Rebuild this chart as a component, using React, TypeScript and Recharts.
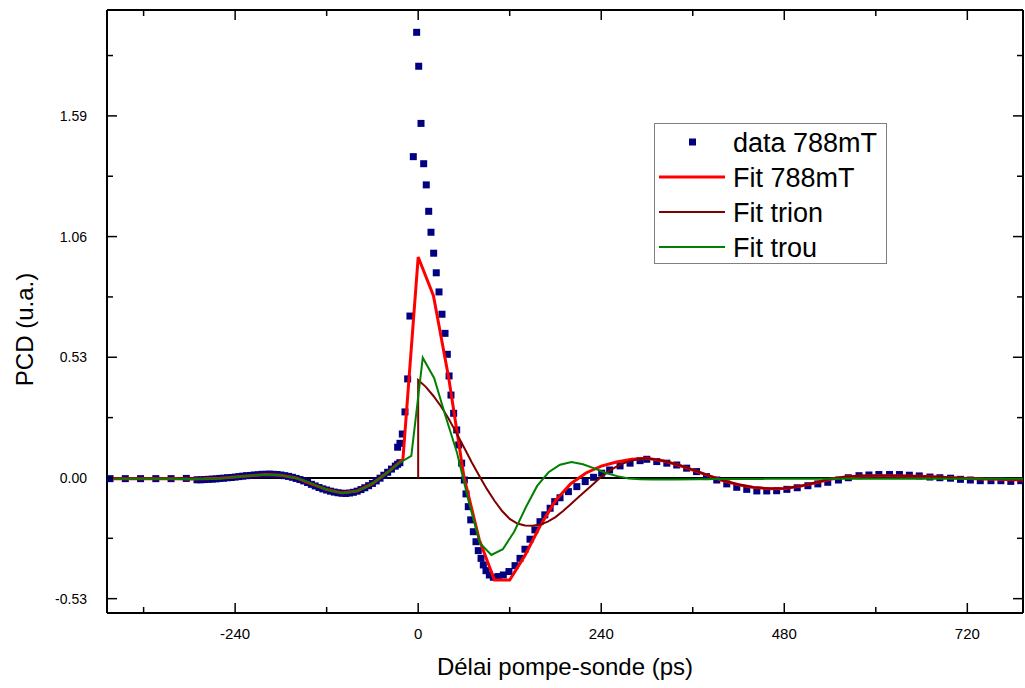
import React from 'react';
import { ComposedChart, Line, Scatter, XAxis, YAxis, ReferenceLine } from 'recharts';

const sparseTimes = [-404, -384, -364, -344, -324, -304];
const sparseValues = [-0.003, -0.003, -0.003, -0.003, -0.003, -0.002];

const preTimes = [
  -290, -285, -280, -275, -270, -265, -260, -255, -250, -245, -240, -235, -230, -225, -220,
  -215, -210, -205, -200, -195, -190, -185, -180, -175, -170, -165, -160, -155, -150, -145,
  -140, -135, -130, -125, -120, -115, -110, -105, -100, -95, -90, -85, -80, -75, -70, -65,
  -60, -55, -50, -45, -40, -35, -30, -27, -24,
];
const preValues = [
  -0.008, -0.008, -0.007, -0.006, -0.005, -0.004, -0.002, -0.001, 0.001, 0.002, 0.004, 0.006,
  0.008, 0.01, 0.011, 0.013, 0.014, 0.016, 0.016, 0.017, 0.016, 0.015, 0.013, 0.01, 0.007,
  0.003, -0.002, -0.007, -0.013, -0.02, -0.028, -0.035, -0.042, -0.048, -0.053, -0.058, -0.062,
  -0.065, -0.067, -0.068, -0.066, -0.063, -0.058, -0.051, -0.043, -0.034, -0.024, -0.013,
  -0.001, 0.012, 0.025, 0.039, 0.052, 0.06, 0.067,
];

const peakTimes = [
  -26.9, -23.9, -20.8, -17.3, -13.8, -10.8, -6.4, -2.0, 0.7, 3.7, 7.2, 10.6, 13.8, 16.8, 20.3,
  23.7, 27.3, 31.2, 35.2, 38.2, 40.5, 43, 46.5, 50.5, 53.1, 57, 60.5, 62.7, 65.7, 68.9, 72.3,
  75.8, 78.8, 82.4, 85.4, 88.9, 93.3, 98.5, 105, 111.6, 119, 127, 133.5, 140, 146.6, 153,
  159.7, 166, 173, 179, 186,
];
const peakValues = [
  0.135, 0.152, 0.193, 0.29, 0.435, 0.711, 1.411, 1.957, 1.808, 1.557, 1.38, 1.287, 1.171,
  1.079, 0.987, 0.901, 0.817, 0.719, 0.635, 0.543, 0.448, 0.364, 0.284, 0.211, 0.145, 0.065,
  -0.009, -0.07, -0.126, -0.184, -0.236, -0.28, -0.319, -0.353, -0.382, -0.407, -0.426, -0.436,
  -0.433, -0.426, -0.411, -0.385, -0.353, -0.313, -0.269, -0.228, -0.192, -0.162, -0.133,
  -0.104, -0.087,
];

const tailTimes = [
  197, 208, 219, 230, 240.6, 251, 264.7, 277.8, 290.9, 299.7, 312.8, 326, 339, 352, 365, 378,
  391.5, 404.6, 417.7, 430.8, 444, 457, 470, 483.4, 497, 511, 524, 537, 551, 564, 578, 591,
  604, 618, 631, 644, 657, 671, 684, 698, 711, 724, 737, 751, 764, 777, 790,
];
const tailValues = [
  -0.06, -0.038, -0.016, 0.003, 0.021, 0.035, 0.053, 0.065, 0.076, 0.082, 0.072, 0.065, 0.057,
  0.043, 0.028, 0.006, -0.009, -0.026, -0.041, -0.05, -0.057, -0.057, -0.056, -0.05, -0.043,
  -0.034, -0.026, -0.019, -0.009, 0.001, 0.01, 0.013, 0.015, 0.015, 0.015, 0.012, 0.009, 0.004,
  0.001, -0.001, -0.006, -0.009, -0.012, -0.012, -0.012, -0.015, -0.012,
];

// Fit 788mT
const fitTimes = [
  -400, -380, -360, -340, -320, -300, -280, -260, -240, -220, -200, -180, -160, -140, -120,
  -100, -80, -60, -40, -20, 0, 20, 40, 60, 80, 100, 120, 140, 160, 180, 200, 220, 240, 260,
  280, 300, 320, 340, 360, 380, 400, 420, 440, 460, 480, 500, 520, 540, 560, 580, 600, 620,
  640, 660, 680, 700, 720, 740, 760, 780, 800,
];
const fitValues = [
  -0.004, -0.004, -0.004, -0.004, -0.004, -0.005, -0.004, -0.001, 0.004, 0.01, 0.015, 0.012,
  0.0, -0.026, -0.051, -0.066, -0.057, -0.025, 0.025, 0.082, 0.97, 0.8, 0.44, 0.005, -0.27,
  -0.448, -0.448, -0.34, -0.21, -0.1, -0.025, 0.022, 0.052, 0.07, 0.082, 0.086, 0.076, 0.058,
  0.035, 0.011, -0.012, -0.03, -0.042, -0.047, -0.046, -0.037, -0.022, -0.006, 0.004, 0.009,
  0.01, 0.01, 0.009, 0.007, 0.004, 0.001, -0.002, -0.005, -0.006, -0.008, -0.009,
];

// Fit trion
const trionTimes = [
  0, 0, 10, 20, 30, 40, 50, 60, 70, 80, 90, 100, 110, 120, 130, 140, 150, 160, 170, 180, 190,
  200, 210, 220, 230, 240, 250, 260, 270, 280, 290, 300, 320, 340, 360, 380, 400, 420, 440,
  460, 480, 500, 520, 540, 560, 580, 600, 620, 640, 660, 680, 700, 720, 740, 760, 780, 800,
];
const trionValues = [
  0, 0.43, 0.4, 0.36, 0.314, 0.26, 0.198, 0.135, 0.07, 0.01, -0.048, -0.1, -0.145, -0.18, -0.2,
  -0.209, -0.21, -0.204, -0.192, -0.172, -0.145, -0.115, -0.085, -0.055, -0.025, 0.005, 0.03,
  0.05, 0.066, 0.077, 0.083, 0.086, 0.077, 0.059, 0.036, 0.012, -0.011, -0.029, -0.041, -0.046,
  -0.045, -0.036, -0.021, -0.005, 0.005, 0.01, 0.011, 0.011, 0.01, 0.008, 0.005, 0.002, -0.001,
  -0.004, -0.005, -0.007, -0.008,
];

// Fit trou
const trouTimes = [
  -399, -384, -369, -354, -339, -324, -309, -294, -279, -264, -249, -234, -219, -204, -189,
  -174, -159, -144, -129, -114, -99, -84, -69, -54, -39, -24, -9, 6, 21, 36, 51, 66, 81, 96,
  111, 126, 141, 156, 171, 186, 201, 216, 231, 246, 261, 276, 291, 306, 336, 366, 396, 426,
  456, 486, 516, 546, 576, 606, 636, 666, 696, 726, 756, 786, 801,
];
const trouValues = [
  -0.004, -0.004, -0.004, -0.004, -0.004, -0.004, -0.005, -0.006, -0.004, -0.002, 0.001, 0.006,
  0.01, 0.014, 0.014, 0.009, -0.001, -0.018, -0.04, -0.057, -0.066, -0.061, -0.042, -0.011,
  0.028, 0.067, 0.097, 0.528, 0.438, 0.27, 0.11, -0.1, -0.287, -0.338, -0.313, -0.235, -0.13,
  -0.035, 0.025, 0.058, 0.07, 0.06, 0.042, 0.022, 0.008, -0.002, -0.006, -0.007, -0.007, -0.006,
  -0.005, -0.005, -0.004, -0.004, -0.004, -0.004, -0.004, -0.004, -0.004, -0.004, -0.004,
  -0.004, -0.004, -0.004, -0.004,
];

const xTicks = [-360, -240, -120, 0, 120, 240, 360, 480, 600, 720];
const xMajor = [-240, 0, 240, 480, 720];
const yTicks = [-0.53, -0.265, 0, 0.265, 0.53, 0.795, 1.06, 1.325, 1.59, 1.855];
const yMajor = [-0.53, 0, 0.53, 1.06, 1.59];

const X_DOMAIN: [number, number] = [-408, 793];
const Y_DOMAIN: [number, number] = [-0.593, 2.055];

const zip = (ts: number[], vs: number[]) => ts.map((t, i) => ({ t, v: vs[i] }));

const dataPoints = [
  ...zip(sparseTimes, sparseValues),
  ...zip(preTimes, preValues),
  ...zip(peakTimes, peakValues),
  ...zip(tailTimes, tailValues),
];
const fitPoints = zip(fitTimes, fitValues);
const trionPoints = zip(trionTimes, trionValues);
const trouPoints = zip(trouTimes, trouValues);

const FONT = "Arial, 'Liberation Sans', Helvetica, sans-serif";
const isMajor = (v: number, list: number[]) => list.some((m) => Math.abs(m - v) < 1e-6);

const Square = (p: any) => (
  <rect x={p.cx - 3.5} y={p.cy - 3.5} width={7} height={7} fill="#000080" />
);

const BottomTick = (p: any) => {
  const major = isMajor(p.payload.value, xMajor);
  return (
    <g>
      <line x1={p.x} y1={p.y} x2={p.x} y2={p.y - (major ? 10 : 6)} stroke="#000" strokeWidth={1.5} />
      {major && (
        <text x={p.x} y={p.y + 26} textAnchor="middle" fontSize={15} fontFamily={FONT} fill="#000">
          {p.payload.value}
        </text>
      )}
    </g>
  );
};

const TopTick = (p: any) => {
  const major = isMajor(p.payload.value, xMajor);
  return <line x1={p.x} y1={p.y} x2={p.x} y2={p.y + (major ? 10 : 6)} stroke="#000" strokeWidth={1.5} />;
};

const LeftTick = (p: any) => {
  const major = isMajor(p.payload.value, yMajor);
  return (
    <g>
      <line x1={p.x} y1={p.y} x2={p.x + (major ? 10 : 6)} y2={p.y} stroke="#000" strokeWidth={1.5} />
      {major && (
        <text x={p.x - 20} y={p.y + 5} textAnchor="end" fontSize={14} fontFamily={FONT} fill="#000">
          {p.payload.value.toFixed(2)}
        </text>
      )}
    </g>
  );
};

const RightTick = (p: any) => {
  const major = isMajor(p.payload.value, yMajor);
  return <line x1={p.x} y1={p.y} x2={p.x - (major ? 10 : 6)} y2={p.y} stroke="#000" strokeWidth={1.5} />;
};

const legendRows = [
  { label: 'data 788mT', kind: 'square', color: '#000080', width: 0 },
  { label: 'Fit 788mT', kind: 'line', color: '#FF0000', width: 3 },
  { label: 'Fit trion', kind: 'line', color: '#800000', width: 2 },
  { label: 'Fit trou', kind: 'line', color: '#008000', width: 2 },
];

function LegendBox() {
  return (
    <svg width={234} height={142} style={{ position: 'absolute', left: 654, top: 123 }}>
      <rect x={0.5} y={0.5} width={232} height={140} fill="#fff" stroke="#808080" strokeWidth={1} />
      {legendRows.map((r, i) => {
        const cy = 19 + i * 35;
        return (
          <g key={r.label}>
            {r.kind === 'square' ? (
              <rect x={35} y={cy - 3.5} width={7} height={7} fill={r.color} />
            ) : (
              <line x1={5} y1={cy} x2={71} y2={cy} stroke={r.color} strokeWidth={r.width} />
            )}
            <text x={79} y={cy + 9.5} fontSize={27} fontFamily={FONT} fill="#000">
              {r.label}
            </text>
          </g>
        );
      })}
    </svg>
  );
}

const layer: React.CSSProperties = { position: 'absolute', left: 0, top: 0 };

export default function App() {
  return (
    <div style={{ position: 'absolute', left: 0, top: 0, width: 1025, height: 688, background: '#fff' }}>
      {/* bottom layer: frame, zero line and the measured points */}
      <div style={layer}>
        <ComposedChart width={1025} height={688} margin={{ top: 9, right: 0, bottom: 0, left: 0 }}>
          <XAxis
            dataKey="t"
            type="number"
            domain={X_DOMAIN}
            allowDataOverflow
            ticks={xTicks}
            interval={0}
            height={75}
            tickSize={0}
            tickMargin={0}
            tick={(p: any) => <BottomTick {...p} />}
            axisLine={{ stroke: '#000', strokeWidth: 2 }}
            label={{
              value: 'Délai pompe-sonde (ps)',
              position: 'insideBottom',
              offset: 13,
              style: { fontSize: 24, fontFamily: FONT, fill: '#000' },
            }}
          />
          <XAxis
            xAxisId="top"
            orientation="top"
            dataKey="t"
            type="number"
            domain={X_DOMAIN}
            allowDataOverflow
            ticks={xTicks}
            interval={0}
            height={1}
            tickSize={0}
            tickMargin={0}
            tick={(p: any) => <TopTick {...p} />}
            axisLine={{ stroke: '#000', strokeWidth: 2 }}
          />
          <YAxis
            type="number"
            domain={Y_DOMAIN}
            allowDataOverflow
            ticks={yTicks}
            interval={0}
            width={107}
            tickSize={0}
            tickMargin={0}
            tick={(p: any) => <LeftTick {...p} />}
            axisLine={{ stroke: '#000', strokeWidth: 2 }}
            label={{
              value: 'PCD (u.a.)',
              angle: -90,
              position: 'insideLeft',
              offset: 24,
              dy: 18,
              style: { fontSize: 24, fontFamily: FONT, fill: '#000', textAnchor: 'middle' },
            }}
          />
          <YAxis
            yAxisId="right"
            orientation="right"
            type="number"
            domain={Y_DOMAIN}
            allowDataOverflow
            ticks={yTicks}
            interval={0}
            width={2}
            tickSize={0}
            tickMargin={0}
            tick={(p: any) => <RightTick {...p} />}
            axisLine={{ stroke: '#000', strokeWidth: 2 }}
          />
          <ReferenceLine y={0} stroke="#000" strokeWidth={2} />
          <Scatter
            data={dataPoints}
            dataKey="v"
            shape={(p: any) => <Square {...p} />}
            isAnimationActive={false}
          />
        </ComposedChart>
      </div>

      {/* top layer: the three fit curves, drawn over the squares */}
      <div style={{ ...layer, pointerEvents: 'none' }}>
        <ComposedChart width={1025} height={688} margin={{ top: 10, right: 2, bottom: 75, left: 107 }}>
          <XAxis dataKey="t" type="number" domain={X_DOMAIN} allowDataOverflow hide />
          <YAxis type="number" domain={Y_DOMAIN} allowDataOverflow hide />
          <Line
            data={fitPoints}
            dataKey="v"
            type="linear"
            stroke="#FF0000"
            strokeWidth={3}
            dot={false}
            activeDot={false}
            isAnimationActive={false}
          />
          <Line
            data={trionPoints}
            dataKey="v"
            type="linear"
            stroke="#800000"
            strokeWidth={2}
            dot={false}
            activeDot={false}
            isAnimationActive={false}
          />
          <Line
            data={trouPoints}
            dataKey="v"
            type="linear"
            stroke="#008000"
            strokeWidth={2}
            dot={false}
            activeDot={false}
            isAnimationActive={false}
          />
        </ComposedChart>
      </div>

      <LegendBox />
    </div>
  );
}
